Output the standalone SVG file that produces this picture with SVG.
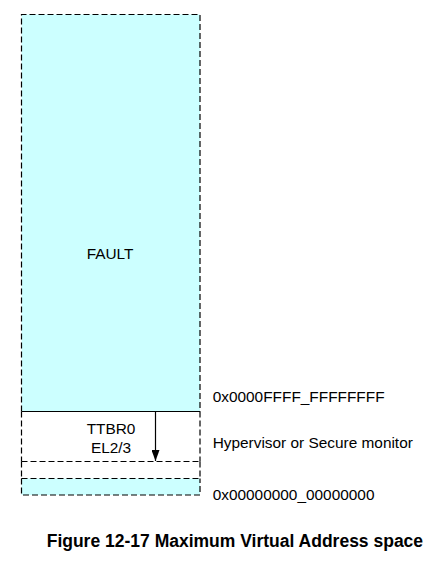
<svg xmlns="http://www.w3.org/2000/svg" width="444" height="563" viewBox="0 0 444 563">
<style>
.t{font-family:"Liberation Sans",Arial,sans-serif;font-size:15.4px;fill:#000}
.c{font-family:"Liberation Sans",Arial,sans-serif;font-size:17.5px;font-weight:bold;fill:#000}
.d{fill:none;stroke:#000;stroke-width:1.2;stroke-dasharray:6 3}
.s{fill:none;stroke:#000;stroke-width:1.2}
</style>
<defs>
<marker id="ah" viewBox="0 0 11 8" refX="11" refY="4" markerWidth="11" markerHeight="8" markerUnits="userSpaceOnUse" orient="auto">
<path d="M0,0 L11,4 L0,8 Z" fill="#000"/>
</marker>
</defs>
<rect width="444" height="563" fill="#fff"/>
<g id="fault">
<rect x="21.5" y="14.5" width="178.5" height="397" fill="#ccffff"/>
<path class="d" d="M21.5,411.5 V14.5 H200 V411.5"/>
<text class="t" x="110" y="259.3" text-anchor="middle">FAULT</text>
</g>
<g id="ttbr0">
<rect x="21.5" y="411.5" width="178.5" height="50" fill="#fff"/>
<path class="s" d="M21.5,411.5 H200"/>
<path class="d" d="M21.5,411.5 V461.5 M200,411.5 V461.5"/>
<text class="t" x="111" y="434" text-anchor="middle">TTBR0</text>
<text class="t" x="111" y="452.7" text-anchor="middle">EL2/3</text>
</g>
<g id="gap">
<path class="d" d="M21.5,461.5 H200 M21.5,461.5 V478.5 M200,461.5 V478.5"/>
</g>
<g id="bottom">
<rect x="21.5" y="478.5" width="178.5" height="16.5" fill="#ccffff"/>
<path class="d" d="M21.5,478.5 H200 M21.5,478.5 V495 H200 V478.5"/>
</g>
<g id="connectors">
<line x1="155.5" y1="411.5" x2="155.5" y2="461" stroke="#000" stroke-width="1.2" marker-end="url(#ah)"/>
</g>
<g id="labels">
<text class="t" x="212.7" y="401.7">0x0000FFFF_FFFFFFFF</text>
<text class="t" x="212.7" y="447.5">Hypervisor or Secure monitor</text>
<text class="t" x="212.7" y="500">0x00000000_00000000</text>
</g>
<text class="c" x="46.7" y="546.7">Figure 12-17 Maximum Virtual Address space</text>
</svg>
